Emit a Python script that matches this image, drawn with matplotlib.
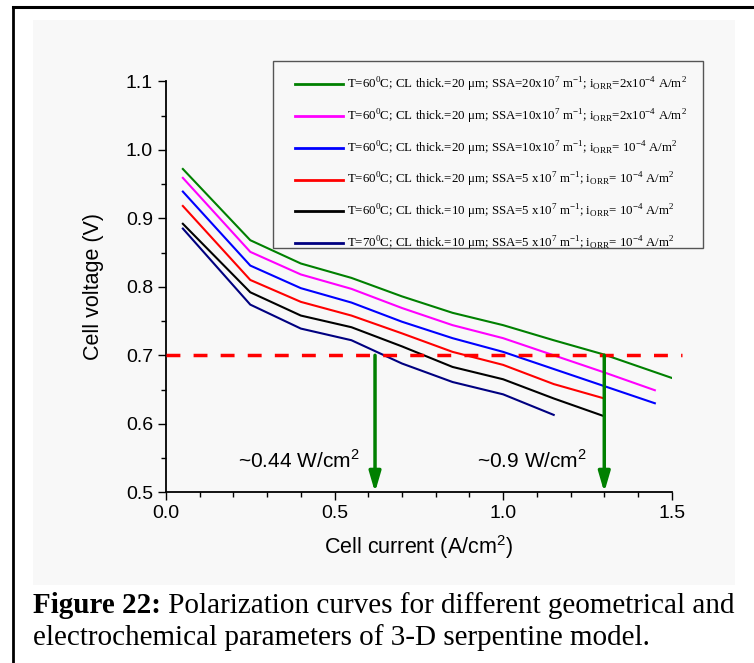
import matplotlib
matplotlib.use('Agg')
import matplotlib.pyplot as plt
from matplotlib.ticker import MultipleLocator
from matplotlib.patches import Rectangle
from matplotlib.lines import Line2D

# data
i_long = [0.05, 0.25, 0.4, 0.55, 0.7, 0.85, 1.0, 1.15, 1.3, 1.5]
v_green = [0.972, 0.868, 0.834, 0.813, 0.786, 0.762, 0.744, 0.722, 0.701, 0.667]

i_mid = [0.05, 0.25, 0.4, 0.55, 0.7, 0.85, 1.0, 1.15, 1.3, 1.45]
v_magenta = [0.959, 0.851, 0.818, 0.797, 0.769, 0.744, 0.725, 0.700, 0.675, 0.649]
v_blue = [0.939, 0.831, 0.798, 0.777, 0.749, 0.725, 0.705, 0.680, 0.655, 0.630]

i_short = [0.05, 0.25, 0.4, 0.55, 0.7, 0.85, 1.0, 1.15, 1.3]
v_red = [0.918, 0.810, 0.778, 0.758, 0.732, 0.705, 0.686, 0.658, 0.637]
v_black = [0.892, 0.792, 0.758, 0.741, 0.713, 0.683, 0.665, 0.637, 0.611]

i_navy = [0.05, 0.25, 0.4, 0.55, 0.7, 0.85, 1.0, 1.15]
v_navy = [0.885, 0.774, 0.739, 0.722, 0.688, 0.661, 0.643, 0.613]

sup = lambda s: '$^{\\mathregular{' + s + '}}$'
sub = lambda s: '$_{\\mathregular{' + s + '}}$'

labels = [
    'T=60' + sup('0') + 'C; CL thick.=20 μm; SSA=20x10' + sup('7') + ' m' + sup('-1') + '; i' + sub('ORR') + '=2x10' + sup('-4') + ' A/m' + sup('2'),
    'T=60' + sup('0') + 'C; CL thick.=20 μm; SSA=10x10' + sup('7') + ' m' + sup('-1') + '; i' + sub('ORR') + '=2x10' + sup('-4') + ' A/m' + sup('2'),
    'T=60' + sup('0') + 'C; CL thick.=20 μm; SSA=10x10' + sup('7') + ' m' + sup('-1') + '; i' + sub('ORR') + '= 10' + sup('-4') + ' A/m' + sup('2'),
    'T=60' + sup('0') + 'C; CL thick.=20 μm; SSA=5 x10' + sup('7') + ' m' + sup('-1') + '; i' + sub('ORR') + '= 10' + sup('-4') + ' A/m' + sup('2'),
    'T=60' + sup('0') + 'C; CL thick.=10 μm; SSA=5 x10' + sup('7') + ' m' + sup('-1') + '; i' + sub('ORR') + '= 10' + sup('-4') + ' A/m' + sup('2'),
    'T=70' + sup('0') + 'C; CL thick.=10 μm; SSA=5 x10' + sup('7') + ' m' + sup('-1') + '; i' + sub('ORR') + '= 10' + sup('-4') + ' A/m' + sup('2'),
]

v_cut = 0.7
arrow_x = [0.62, 1.3]
power_text = ['~0.44 W/cm' + sup('2'), '~0.9 W/cm' + sup('2')]
power_x = [0.395, 1.085]

W, H = 754, 663
fig = plt.figure(figsize=(W / 100, H / 100), dpi=100)

# page frame and light panel
fig.add_artist(Line2D([13 / W, 13 / W], [0, 1 - 6.5 / H], color='black', lw=2, transform=fig.transFigure))
fig.add_artist(Line2D([13 / W, 1], [1 - 6.5 / H, 1 - 6.5 / H], color='black', lw=2.2, transform=fig.transFigure))
fig.add_artist(Rectangle((33 / W, 1 - 585 / H), (735 - 33) / W, (585 - 20) / H,
                         transform=fig.transFigure, facecolor='#f8f8f8', edgecolor='none', zorder=-5))

ax = fig.add_axes([166 / W, 1 - 492.3 / H, 505.7 / W, 411 / H])
ax.set_facecolor('none')

sans = 'Liberation Sans'
serif = 'Liberation Serif'

ax.plot(i_long, v_green, color='#008000', lw=1.5, label=labels[0])
ax.plot(i_mid, v_magenta, color='#ff00ff', lw=1.5, label=labels[1])
ax.plot(i_mid, v_blue, color='#0000ff', lw=1.5, label=labels[2])
ax.plot(i_short, v_red, color='#ff0000', lw=1.5, label=labels[3])
ax.plot(i_short, v_black, color='black', lw=1.5, label=labels[4])
ax.plot(i_navy, v_navy, color='#000080', lw=1.5, label=labels[5])

ax.plot([0, 1.53], [v_cut, v_cut], color='#ff0000', lw=2.5, dashes=(4, 3.8), clip_on=False, zorder=3)

for x in arrow_x:
    ax.annotate('', xy=(x, 0.5), xytext=(x, v_cut),
                arrowprops=dict(arrowstyle='-|>,head_length=1.2,head_width=0.35', color='#008000',
                                lw=2.5, shrinkA=0, shrinkB=0), zorder=4)

for x, t in zip(power_x, power_text):
    ax.text(x, 0.546, t, ha='center', va='center', fontsize=15, family=sans)

ax.set_xlim(0, 1.5)
ax.set_ylim(0.5, 1.1)
ax.xaxis.set_major_locator(MultipleLocator(0.5))
ax.xaxis.set_minor_locator(MultipleLocator(0.1))
ax.yaxis.set_major_locator(MultipleLocator(0.1))
ax.yaxis.set_minor_locator(MultipleLocator(0.05))
ax.xaxis.set_major_formatter(plt.FormatStrFormatter('%.1f'))
ax.yaxis.set_major_formatter(plt.FormatStrFormatter('%.1f'))
ax.spines['top'].set_visible(False)
ax.spines['right'].set_visible(False)
for s in ['left', 'bottom']:
    ax.spines[s].set_linewidth(1.3)
ax.tick_params(which='major', direction='out', length=5.8, width=1, labelsize=14)
ax.tick_params(which='minor', direction='out', length=3.3, width=1)
for lab in ax.get_xticklabels() + ax.get_yticklabels():
    lab.set_family(sans)

ax.set_xlabel('Cell current (A/cm' + sup('2') + ')', fontsize=15.5, family=sans, labelpad=8)
ax.set_ylabel('Cell voltage (V)', fontsize=15.5, family=sans, labelpad=16)

# legend box drawn separately so the padding matches
fig.add_artist(Rectangle((273 / W, 1 - 248 / H), (703 - 273) / W, (248 - 61) / H,
                         transform=fig.transFigure, facecolor='none', edgecolor='#555555', lw=1))
leg = ax.legend(loc='upper left', bbox_to_anchor=(295 / W, 1 - 76 / H), bbox_transform=fig.transFigure,
                prop={'family': serif, 'size': 9.3}, frameon=False,
                handlelength=3.75, handletextpad=0.3, labelspacing=1.04, borderpad=0,
                borderaxespad=0)
for h in leg.get_lines():
    h.set_linewidth(2)

# caption: bold lead-in followed by regular text on the same baseline
y1 = 1 - 613 / H
y2 = 1 - 645 / H
bold = fig.text(33 / W, y1, 'Figure 22:', fontsize=21, family=serif, weight='bold', va='baseline')
fig.canvas.draw()
bb = bold.get_window_extent().transformed(fig.transFigure.inverted())
fig.text(bb.x1, y1, ' Polarization curves for different geometrical and',
         fontsize=21, family=serif, va='baseline')
fig.text(33 / W, y2, 'electrochemical parameters of 3-D serpentine model.',
         fontsize=21, family=serif, va='baseline')

fig.savefig('out.png', dpi=100)
